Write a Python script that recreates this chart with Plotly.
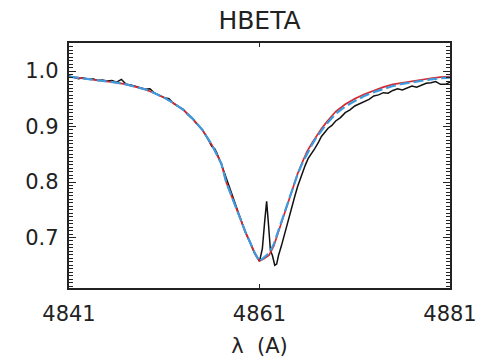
import plotly.graph_objects as go

# Observed H-beta profile (normalised flux)
obs_wave = [4841.0, 4841.5, 4842.0, 4842.5, 4843.0, 4843.5, 4844.0, 4844.5, 4845.0, 4845.5,
            4846.0, 4846.5, 4847.0, 4847.5, 4848.0, 4848.5, 4849.0, 4849.5, 4850.0, 4850.5,
            4851.0, 4851.5, 4852.0, 4852.5, 4853.0, 4853.5, 4854.0, 4854.5, 4855.0, 4855.5,
            4856.0, 4856.3, 4856.5, 4857.0, 4857.5, 4858.0, 4858.5, 4859.0, 4859.5, 4860.0,
            4860.5, 4861.0, 4861.3, 4861.55, 4861.75, 4861.95, 4862.15, 4862.35, 4862.6, 4862.8,
            4863.0, 4863.3, 4863.6, 4864.0, 4864.4, 4864.7, 4865.0, 4865.4, 4865.8, 4866.1,
            4866.5, 4866.8, 4867.2, 4867.5, 4868.2, 4868.6, 4869.0, 4869.5, 4870.0, 4870.5,
            4871.0, 4871.5, 4872.0, 4872.5, 4873.0, 4873.5, 4874.0, 4874.5, 4875.0, 4875.5,
            4876.0, 4876.5, 4877.0, 4877.5, 4878.0, 4878.5, 4879.0, 4879.5, 4880.0, 4880.5,
            4881.0]
obs_flux = [0.991, 0.989, 0.986, 0.988, 0.985, 0.986, 0.983, 0.984, 0.982, 0.983,
            0.980, 0.985, 0.976, 0.975, 0.972, 0.969, 0.967, 0.968, 0.960, 0.956,
            0.952, 0.950, 0.941, 0.936, 0.931, 0.921, 0.913, 0.903, 0.894, 0.880,
            0.864, 0.860, 0.853, 0.832, 0.808, 0.780, 0.756, 0.733, 0.710, 0.691,
            0.671, 0.657, 0.680, 0.730, 0.765, 0.722, 0.676, 0.668, 0.650, 0.652,
            0.668, 0.685, 0.705, 0.728, 0.755, 0.774, 0.792, 0.812, 0.830, 0.842,
            0.852, 0.860, 0.872, 0.882, 0.897, 0.902, 0.910, 0.916, 0.925, 0.930,
            0.937, 0.941, 0.946, 0.949, 0.955, 0.957, 0.961, 0.960, 0.965, 0.968,
            0.966, 0.970, 0.973, 0.971, 0.975, 0.978, 0.979, 0.981, 0.976, 0.976,
            0.980]

# Model profiles on a common wavelength grid
model_wave = [4841.0, 4842.0, 4843.0, 4844.0, 4845.0, 4846.0, 4847.0, 4848.0, 4849.0, 4850.0,
              4851.0, 4852.0, 4853.0, 4854.0, 4855.0, 4856.0, 4856.5, 4857.0, 4857.5, 4858.0,
              4858.5, 4859.0, 4859.5, 4860.0, 4860.5, 4861.0, 4861.5, 4862.0, 4862.5, 4863.0,
              4863.5, 4864.0, 4864.5, 4865.0, 4865.5, 4866.0, 4866.5, 4867.0, 4867.5, 4868.0,
              4869.0, 4870.0, 4871.0, 4872.0, 4873.0, 4874.0, 4875.0, 4876.0, 4877.0, 4878.0,
              4879.0, 4880.0, 4881.0]
model_red = [0.990, 0.988, 0.986, 0.984, 0.982, 0.979, 0.976, 0.972, 0.967, 0.960,
             0.952, 0.942, 0.930, 0.914, 0.894, 0.867, 0.851, 0.833, 0.800, 0.778,
             0.755, 0.732, 0.711, 0.692, 0.672, 0.658, 0.662, 0.668, 0.685, 0.711,
             0.738, 0.765, 0.792, 0.815, 0.836, 0.855, 0.870, 0.884, 0.896, 0.907,
             0.927, 0.940, 0.950, 0.958, 0.965, 0.971, 0.976, 0.979, 0.982, 0.985,
             0.987, 0.989, 0.990]
model_blue = [0.990, 0.988, 0.986, 0.984, 0.982, 0.979, 0.976, 0.972, 0.967, 0.960,
              0.952, 0.942, 0.930, 0.914, 0.894, 0.867, 0.851, 0.833, 0.800, 0.778,
              0.755, 0.732, 0.711, 0.692, 0.672, 0.657, 0.664, 0.672, 0.688, 0.713,
              0.740, 0.766, 0.792, 0.814, 0.834, 0.852, 0.867, 0.881, 0.893, 0.904,
              0.923, 0.936, 0.946, 0.955, 0.962, 0.968, 0.973, 0.977, 0.980, 0.983,
              0.985, 0.987, 0.988]

x_ticks = [4841, 4861, 4881]
y_ticks = [0.7, 0.8, 0.9, 1.0]
y_tick_text = ["0.7", "0.8", "0.9", "1.0"]

ink = "#222222"
font = "DejaVu Sans"

fig = go.Figure()
fig.add_trace(go.Scatter(x=obs_wave, y=obs_flux, mode="lines",
                         line=dict(color="#111111", width=1.5)))
fig.add_trace(go.Scatter(x=model_wave, y=model_red, mode="lines",
                         line=dict(color="#d8282e", width=1.7)))
fig.add_trace(go.Scatter(x=model_wave, y=model_blue, mode="lines",
                         line=dict(color="#3d9be0", width=2.2, dash="10px,4px")))

fig.update_layout(
    width=478, height=358,
    margin=dict(l=69, r=28, t=43, b=70),
    paper_bgcolor="white", plot_bgcolor="white",
    showlegend=False,
    font=dict(family=font, color=ink, size=20),
    title=dict(text="HBETA", x=0.5, xref="paper", xanchor="center",
               y=1 - 20 / 358, yref="container", yanchor="middle",
               font=dict(family=font, size=25, color=ink)),
)

fig.update_xaxes(
    range=[4841, 4881], tickmode="array", tickvals=x_ticks,
    ticktext=[str(v) for v in x_ticks],
    ticks="inside", ticklen=4, tickwidth=1.2, tickcolor=ink,
    showline=True, linewidth=2.4, linecolor=ink, mirror="ticks",
    showgrid=False, zeroline=False, automargin=False,
    ticklabelstandoff=6,
    tickfont=dict(family=font, size=21, color=ink),
    title=dict(text="λ\u00a0\u00a0(A)", standoff=14,
               font=dict(family=font, size=21, color=ink)),
)

fig.update_yaxes(
    range=[0.609, 1.0505], tickmode="array", tickvals=y_ticks, ticktext=y_tick_text,
    ticks="inside", ticklen=7, tickwidth=1.2, tickcolor=ink,
    showline=True, linewidth=2.4, linecolor=ink, mirror="ticks",
    showgrid=False, zeroline=False, automargin=False,
    ticklabelstandoff=4,
    tickfont=dict(family=font, size=21, color=ink),
    minor=dict(ticks="inside", ticklen=3.5, tickwidth=1, tickcolor=ink,
               dtick=0.00625, tick0=0.7, showgrid=False),
)

fig.write_html("out.html")
